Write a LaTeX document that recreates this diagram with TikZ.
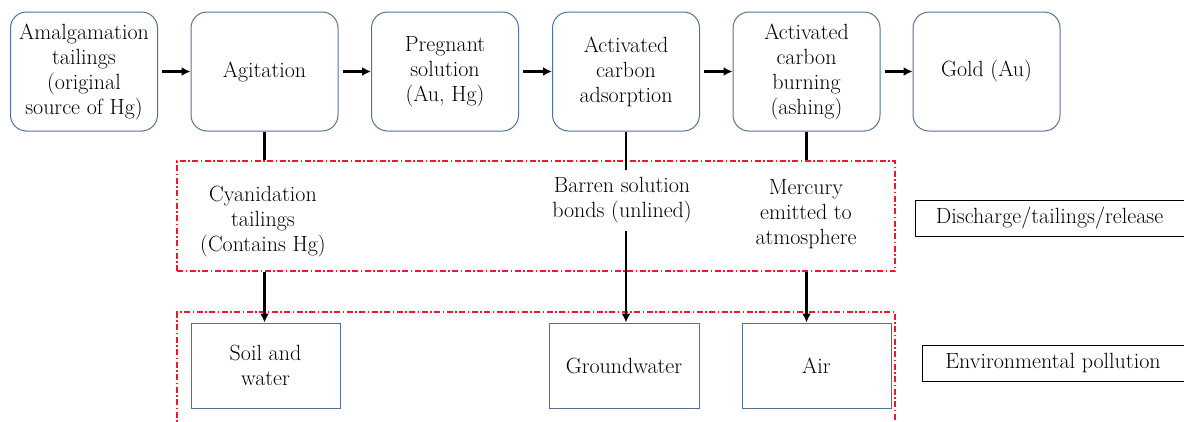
\documentclass[tikz,border=0pt]{standalone}
\usepackage{fontspec}
\usetikzlibrary{arrows.meta}
\definecolor{boxblue}{RGB}{84,114,150}
\definecolor{dashred}{RGB}{235,25,45}
\begin{document}
\begin{tikzpicture}[x=1pt,y=-1pt,
  every node/.style={font=\fontsize{22}{25}\selectfont, align=center, inner sep=0pt},
  proc/.style={draw=boxblue, line width=1pt, rounded corners=16pt, minimum width=147pt, minimum height=119pt},
  sink/.style={draw=boxblue, line width=1pt, minimum height=85pt},
  tagbox/.style={draw=black, line width=0.8pt, minimum height=36pt},
  flow/.style={line width=2.6pt, -{Latex[length=9pt,width=9pt]}},
  link/.style={line width=2.6pt},
  zone/.style={draw=dashred, line width=1.1pt, dash pattern=on 6pt off 2.5pt on 1.5pt off 2.5pt},
  gap/.style={inner sep=7pt}
]
\useasboundingbox (0,0) rectangle (1184,421);
% process chain
\node[proc] (amal) at (84,71.5) {Amalgamation\\tailings\\(original\\source of Hg)};
\node[proc] (agit) at (264.5,71.5) {Agitation};
\node[proc] (preg) at (445,71.5) {Pregnant\\solution\\(Au, Hg)};
\node[proc] (carb) at (626,71.5) {Activated\\carbon\\adsorption};
\node[proc] (burn) at (806.5,71.5) {Activated\\carbon\\burning\\(ashing)};
\node[proc] (gold) at (986.5,71.5) {Gold (Au)};
\foreach \a/\b in {amal/agit, agit/preg, preg/carb, carb/burn, burn/gold}
  \draw[flow, shorten <=4pt] (\a) -- (\b);
% discharge zone
\node[zone, minimum width=718pt, minimum height=110pt] (z1) at (536,216) {};
\draw[zone] (177,430) -- (177,312) -- (895,312) -- (895,430);
\node (cyan) at (263,222) {Cyanidation\\tailings\\(Contains Hg)};
\node[gap] (barren) at (622,200.5) {Barren solution\\bonds (unlined)};
\node (merc) at (806,214) {Mercury\\emitted to\\atmosphere};
% sinks
\node[sink, minimum width=149pt] (soil) at (265.5,365.5) {Soil and\\water};
\node[sink, minimum width=150pt] (ground) at (624,365.5) {Groundwater};
\node[sink, minimum width=149pt] (air) at (816.5,365.5) {Air};
% category tags
\node[tagbox, minimum width=269pt] (disc) at (1049.5,218) {Discharge/tailings/release};
\node[tagbox, minimum width=262pt] (env) at (1053,363) {Environmental pollution};
% vertical connectors
\draw[link] (agit.south) -- (agit.south |- z1.north);
\draw[flow] (agit.south |- z1.south) -- (agit.south |- soil.north);
\draw[link] (carb.south) -- (carb.south |- barren.north);
\draw[flow] (carb.south |- barren.south) -- (carb.south |- ground.north);
\draw[link] (burn.south) -- (burn.south |- z1.north);
\draw[flow] (burn.south |- z1.south) -- (burn.south |- air.north);
\end{tikzpicture}
\end{document}
